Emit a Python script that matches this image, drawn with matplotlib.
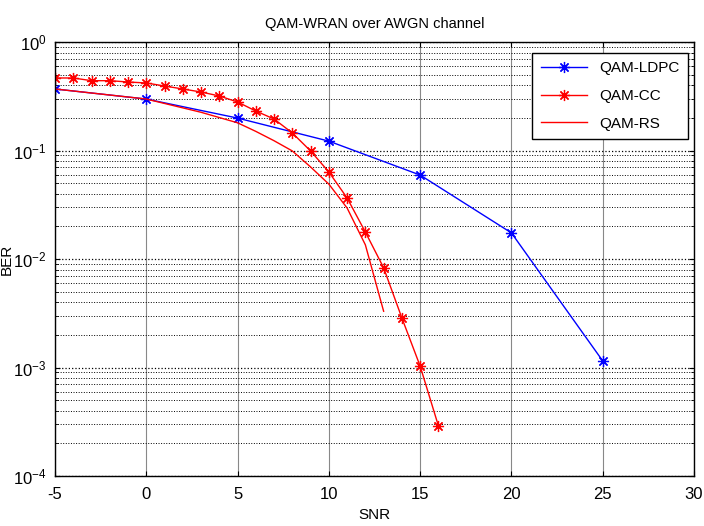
import numpy as np
import matplotlib
matplotlib.use('Agg')
import matplotlib.pyplot as plt
from matplotlib.ticker import LogLocator, NullFormatter

# SNR / BER values
snr_ldpc = [-5, 0, 5, 10, 15, 20, 25]
ber_ldpc = [0.369, 0.298, 0.199, 0.122, 0.0594, 0.0174, 0.00115]

snr_cc = list(range(-5, 17))
ber_cc = [0.466, 0.466, 0.440, 0.440, 0.428, 0.419, 0.393, 0.369, 0.346, 0.318,
          0.280, 0.231, 0.195, 0.145, 0.099, 0.0634, 0.0365, 0.0177, 0.0083,
          0.00286, 0.00103, 0.00029]

snr_rs = [-5, 0, 3, 5, 6, 7, 8, 9, 10, 11, 12, 13]
ber_rs = [0.369, 0.298, 0.225, 0.180, 0.150, 0.123, 0.099, 0.0705, 0.049,
          0.0295, 0.0135, 0.0033]

plt.rcParams['font.family'] = ['Liberation Sans', 'DejaVu Sans']
plt.rcParams['axes.unicode_minus'] = False

fig = plt.figure(figsize=(7.04, 5.26), dpi=100)
ax = fig.add_axes([55/704, 50/526, 639/704, 434/526])

star = (8, 2, 0)
ax.semilogy(snr_ldpc, ber_ldpc, color='blue', lw=1, marker=star, ms=8,
            mew=0.9, label='QAM-LDPC')
ax.semilogy(snr_cc, ber_cc, color='red', lw=1, marker=star, ms=8,
            mew=0.9, label='QAM-CC')
ax.semilogy(snr_rs, ber_rs, color='red', lw=1, label='QAM-RS')

ax.set_xlim(-5, 30)
ax.set_ylim(1e-4, 1)
ax.set_xticks(np.arange(-5, 31, 5))
ax.yaxis.set_major_locator(LogLocator(base=10, numticks=10))
ax.yaxis.set_minor_locator(LogLocator(base=10, subs=np.arange(2, 10), numticks=10))
ax.yaxis.set_minor_formatter(NullFormatter())

ax.grid(True, axis='x', which='major', color='#888888', ls='-', lw=0.8)
ax.grid(True, axis='y', which='major', color='black', ls=':', lw=0.9)
ax.grid(True, axis='y', which='minor', color='black', ls=':', lw=0.7)

ax.tick_params(which='both', direction='in', top=True, right=True, labelsize=12)
ax.tick_params(axis='x', pad=8)
ax.tick_params(axis='y', pad=6)
for s in ax.spines.values():
    s.set_linewidth(1.0)

ax.set_title('QAM-WRAN over AWGN channel', fontsize=10.5, pad=10)
ax.set_xlabel('SNR', fontsize=11, labelpad=4)
ax.set_ylabel('BER', fontsize=11)
ax.yaxis.set_label_coords(-0.065, 0.5)

leg = ax.legend(loc='upper right', bbox_to_anchor=(0.99, 0.975), borderaxespad=0,
                fontsize=11, fancybox=False, edgecolor='black', framealpha=1,
                handlelength=3.0, borderpad=0.55, labelspacing=0.9)
leg.get_frame().set_linewidth(1.0)

fig.savefig('out.png', dpi=100)
